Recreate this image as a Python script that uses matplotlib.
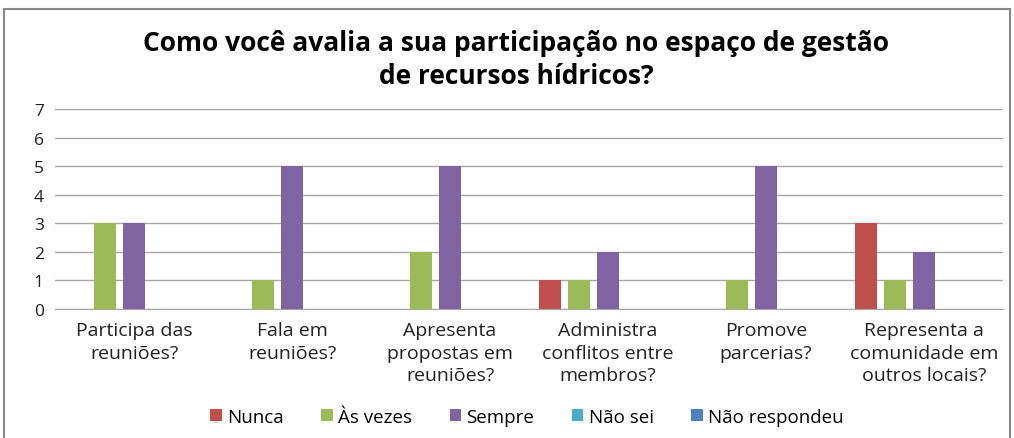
import matplotlib
matplotlib.use("Agg")
import matplotlib.pyplot as plt
import matplotlib.patches as mpatches
import numpy as np

# ---------------------------------------------------------------------------
# Data
# ---------------------------------------------------------------------------
categories = [
    "Participa das\nreuniões?",
    "Fala em\nreuniões?",
    "Apresenta\npropostas em\nreuniões?",
    "Administra\nconflitos entre\nmembros?",
    "Promove\nparcerias?",
    "Representa a\ncomunidade em\noutros locais?",
]
series_names = ["Nunca", "Às vezes", "Sempre", "Não sei", "Não respondeu"]
nunca = [0, 0, 0, 1, 0, 3]
as_vezes = [3, 1, 2, 1, 1, 1]
sempre = [3, 5, 5, 2, 5, 2]
nao_sei = [0, 0, 0, 0, 0, 0]
nao_respondeu = [0, 0, 0, 0, 0, 0]
y_ticks = [0, 1, 2, 3, 4, 5, 6, 7]

colors = ["#c0504d", "#9bbb59", "#8064a2", "#4bacc6", "#4f81bd"]
title = "Como você avalia a sua participação no espaço de gestão\nde recursos hídricos?"

plt.rcParams["font.family"] = ["Open Sans", "DejaVu Sans"]

fig = plt.figure(figsize=(10.14, 4.39), dpi=100)
ax = fig.add_axes([55 / 1014, 1 - 310 / 439, 948 / 1014, 200 / 439])

x = np.arange(len(categories))
step, width = 0.1835, 0.139
all_series = [nunca, as_vezes, sempre, nao_sei, nao_respondeu]
for i, (name, vals) in enumerate(zip(series_names, all_series)):
    ax.bar(x + (i - 2) * step, vals, width, color=colors[i], label=name, zorder=3)

ax.set_xlim(-0.5, len(categories) - 0.5)
ax.set_ylim(0, 7)
ax.set_yticks(y_ticks)
ax.yaxis.grid(True, color="#a6a6a6", linewidth=1, zorder=0)
for s in ["top", "right", "left"]:
    ax.spines[s].set_visible(False)
ax.spines["bottom"].set_color("#a6a6a6")
ax.tick_params(axis="both", length=0, labelsize=12.5, colors="#222222")
ax.tick_params(axis="y", pad=8)
ax.set_xticks(x)
ax.set_xticklabels(categories, fontsize=14, linespacing=1.32)
ax.tick_params(axis="x", pad=9)

fig.text(516 / 1014, 1 - 60 / 439, title, ha="center", va="center",
         fontsize=19, fontweight="bold", linespacing=1.25)

ax.legend(loc="center", bbox_to_anchor=(527 / 1014, 1 - 418 / 439),
          bbox_transform=fig.transFigure, ncol=5, frameon=False,
          fontsize=13.5, handlelength=0.6, handleheight=0.6,
          handletextpad=0.3, columnspacing=2.0)

# chart frame
fig.patches.append(mpatches.Rectangle((4 / 1014, -0.05), 1006 / 1014, 1 - 10 / 439 + 0.05,
                                      transform=fig.transFigure, fill=False,
                                      edgecolor="#888888", linewidth=1.5))

fig.savefig("out.png", dpi=100)
